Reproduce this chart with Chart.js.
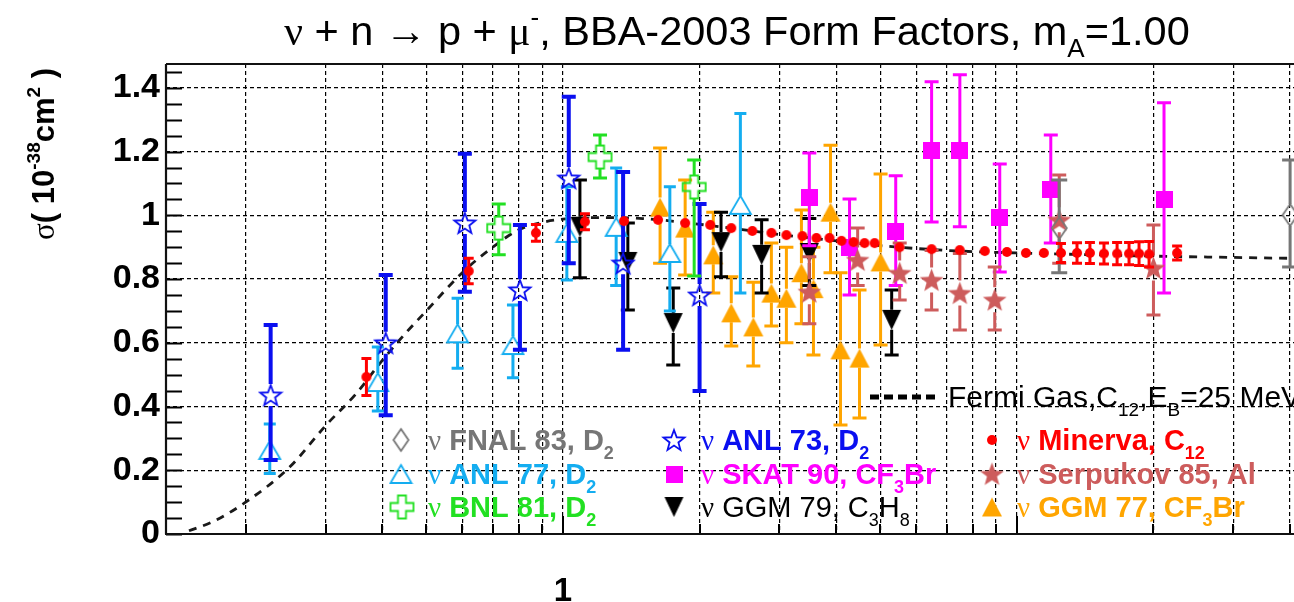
<!DOCTYPE html>
<html>
<head>
<meta charset="utf-8">
<title>nu n -> p mu cross section</title>
<script src="https://cdn.jsdelivr.net/npm/chart.js@4/dist/chart.umd.min.js"></script>
<style>
  html, body { margin: 0; padding: 0; background: #fff; }
  #wrap { width: 1294px; height: 602px; }
</style>
</head>
<body>
<div id="wrap"><canvas id="xsChart" width="1294" height="602"></canvas></div>
<script>
// neutrino energy (GeV), cross section (1e-38 cm^2) and error band per experiment
const anl73E  = [0.227, 0.407, 0.608, 0.804, 1.03, 1.357, 2.0];
const anl73Xs = [0.436, 0.600, 0.976, 0.766, 1.117, 0.850, 0.750];
const anl73Hi = [0.656, 0.813, 1.193, 0.970, 1.372, 1.136, 1.036];
const anl73Lo = [0.232, 0.373, 0.760, 0.578, 0.850, 0.578, 0.449];

const anl77E  = [0.226, 0.391, 0.586, 0.776, 1.02, 1.31, 1.72, 2.46];
const anl77Xs = [0.264, 0.477, 0.630, 0.593, 0.945, 0.964, 0.882, 1.033];
const anl77Hi = [0.345, 0.587, 0.740, 0.719, 1.090, 1.149, 1.090, 1.320];
const anl77Lo = [0.190, 0.386, 0.520, 0.490, 0.797, 0.780, 0.700, 0.756];

const bnl81E  = [0.722, 1.207, 1.946];
const bnl81Xs = [0.960, 1.183, 1.089];
const bnl81Hi = [1.036, 1.252, 1.174];
const bnl81Lo = [0.876, 1.117, 0.810];

const fnal83E  = [12.4, 40.0];
const fnal83Xs = [0.960, 1.001];
const fnal83Hi = [1.111, 1.174];
const fnal83Lo = [0.820, 0.838];

const skat90E  = [3.49, 4.28, 5.41, 6.49, 7.49, 9.17, 11.88, 21.1];
const skat90Xs = [1.055, 0.898, 0.948, 1.202, 1.202, 0.992, 1.080, 1.051];
const skat90Hi = [1.196, 1.051, 1.124, 1.419, 1.441, 1.161, 1.252, 1.353];
const skat90Lo = [0.905, 0.750, 0.780, 0.979, 0.964, 0.822, 0.913, 0.756];

const ggm79E  = [1.09, 1.39, 1.75, 2.23, 2.74, 3.49, 5.30];
const ggm79Xs = [0.964, 0.854, 0.662, 0.916, 0.876, 0.882, 0.672];
const ggm79Hi = [1.111, 0.976, 0.772, 1.010, 0.986, 0.990, 0.766];
const ggm79Lo = [0.804, 0.703, 0.530, 0.807, 0.756, 0.780, 0.562];

const serp85E  = [3.49, 4.46, 5.52, 6.49, 7.49, 8.94, 12.4, 20.0];
const serp85Xs = [0.760, 0.860, 0.819, 0.797, 0.756, 0.735, 0.986, 0.835];
const serp85Hi = [0.870, 0.960, 0.913, 0.890, 0.880, 0.838, 1.127, 0.970];
const serp85Lo = [0.660, 0.780, 0.734, 0.703, 0.640, 0.640, 0.850, 0.687];

const ggm77E  = [1.637, 1.859, 2.144, 2.349, 2.627, 2.879, 3.107, 3.353, 3.564, 3.886, 4.088, 4.502, 5.01];
const ggm77Xs = [1.026, 0.960, 0.876, 0.694, 0.650, 0.756, 0.740, 0.820, 0.770, 1.010, 0.578, 0.552, 0.854];
const ggm77Hi = [1.211, 1.111, 1.010, 0.807, 0.790, 0.913, 0.900, 1.017, 0.900, 1.220, 0.820, 0.766, 1.130];
const ggm77Lo = [0.850, 0.813, 0.756, 0.590, 0.527, 0.653, 0.600, 0.660, 0.562, 0.820, 0.342, 0.364, 0.593];

const minervaE   = [0.369, 0.62, 0.872, 1.118, 1.363, 1.62, 1.859, 2.111, 2.349, 2.614, 2.879, 3.107,
                    3.37, 3.618, 3.866, 4.108, 4.367, 4.618, 4.86, 5.516, 6.49, 7.485, 8.50, 9.51,
                    10.47, 11.47, 12.51, 13.57, 14.49, 15.56, 16.63, 17.67, 18.59, 19.56, 22.55];
const minervaXs  = [0.493, 0.825, 0.945, 0.980, 0.982, 0.986, 0.976, 0.970, 0.960, 0.951, 0.945, 0.938,
                    0.935, 0.929, 0.929, 0.920, 0.916, 0.913, 0.913, 0.900, 0.894, 0.891, 0.888, 0.885,
                    0.882, 0.882, 0.882, 0.882, 0.882, 0.880, 0.880, 0.880, 0.880, 0.878, 0.882];
const minervaErr = [0.058, 0.040, 0.026, 0.025, 0.010, 0.010, 0.010, 0.010, 0.010, 0.010, 0.010, 0.010,
                    0.010, 0.010, 0.010, 0.010, 0.010, 0.010, 0.010, 0.010, 0.010, 0.010, 0.010, 0.010,
                    0.010, 0.010, 0.030, 0.032, 0.033, 0.033, 0.035, 0.035, 0.037, 0.040, 0.022];

// Fermi gas prediction, C12, Eb = 25 MeV
const fermiE  = [0.15, 0.17, 0.2, 0.25, 0.3, 0.35, 0.4, 0.45, 0.5, 0.6, 0.7, 0.8, 0.9, 1.0, 1.2,
                 1.5, 2, 3, 4, 5, 7, 10, 15, 20, 30, 40.8];
const fermiXs = [0.010, 0.040, 0.100, 0.210, 0.340, 0.440, 0.545, 0.630, 0.700, 0.820, 0.900, 0.955,
                 0.978, 0.988, 0.993, 0.990, 0.972, 0.940, 0.920, 0.905, 0.890, 0.882, 0.876, 0.872,
                 0.868, 0.865];

// axis ticks
const xGridTicks = [0.2, 0.3, 0.4, 0.5, 0.6, 0.7, 0.8, 0.9, 1, 2, 3, 4, 5, 6, 7, 8, 9, 10, 20, 30, 40];
const xLabelTicks = [1];
const yMajorTicks = [0, 0.2, 0.4, 0.6, 0.8, 1.0, 1.2, 1.4];
const yMinorStep = 0.05;

const SANS = '"Liberation Sans", Arial, Helvetica, sans-serif';
const SERIF = '"Liberation Serif", "DejaVu Serif", serif';

const COL = {
  fnal: '#767676', anl77: '#14adf0', bnl: '#22e022', anl73: '#0a0ff0',
  skat: '#ff00ff', ggm79: '#000000', minerva: '#ff0000', serp: '#cd5c5c', ggm77: '#ffa500'
};

// ---- ROOT-like marker bitmaps --------------------------------------------
function canvasOf(w, h) {
  const c = document.createElement('canvas');
  c.width = w; c.height = h;
  return c;
}
function starMarker(size, fill, stroke, lw) {
  const c = canvasOf(size + 4, size + 4), g = c.getContext('2d');
  const cx = c.width / 2, cy = c.height / 2 + 1, R = size / 2, r = R * 0.42;
  g.beginPath();
  for (let i = 0; i < 10; i++) {
    const a = -Math.PI / 2 + i * Math.PI / 5, rr = i % 2 ? r : R;
    g.lineTo(cx + rr * Math.cos(a), cy + rr * Math.sin(a));
  }
  g.closePath();
  if (fill) { g.fillStyle = fill; g.fill(); }
  if (stroke) { g.lineWidth = lw; g.strokeStyle = stroke; g.lineJoin = 'miter'; g.stroke(); }
  return c;
}
function triMarker(w, h, color, open, down) {
  const c = canvasOf(w + 4, h + 4), g = c.getContext('2d');
  const l = 2, r = w + 2, t = 2, b = h + 2;
  g.beginPath();
  if (down) { g.moveTo(l, t); g.lineTo(r, t); g.lineTo(c.width / 2, b); }
  else { g.moveTo(c.width / 2, t); g.lineTo(r, b); g.lineTo(l, b); }
  g.closePath();
  if (open) { g.lineWidth = 1.8; g.strokeStyle = color; g.stroke(); }
  else { g.fillStyle = color; g.fill(); }
  return c;
}
function squareMarker(s, color) {
  const c = canvasOf(s, s), g = c.getContext('2d');
  g.fillStyle = color; g.fillRect(0, 0, s, s);
  return c;
}
function dotMarker(d, color) {
  const c = canvasOf(d + 2, d + 2), g = c.getContext('2d');
  g.fillStyle = color; g.beginPath();
  g.arc(c.width / 2, c.height / 2, d / 2, 0, Math.PI * 2); g.fill();
  return c;
}
function crossMarker(s, arm, color) {
  const c = canvasOf(s + 4, s + 4), g = c.getContext('2d');
  const o = 2, a = (s - arm) / 2;
  g.beginPath();
  g.moveTo(o + a, o); g.lineTo(o + a + arm, o); g.lineTo(o + a + arm, o + a);
  g.lineTo(o + s, o + a); g.lineTo(o + s, o + a + arm); g.lineTo(o + a + arm, o + a + arm);
  g.lineTo(o + a + arm, o + s); g.lineTo(o + a, o + s); g.lineTo(o + a, o + a + arm);
  g.lineTo(o, o + a + arm); g.lineTo(o, o + a); g.lineTo(o + a, o + a);
  g.closePath();
  g.lineWidth = 1.8; g.strokeStyle = color; g.stroke();
  return c;
}
function diamondMarker(w, h, color) {
  const c = canvasOf(w + 4, h + 4), g = c.getContext('2d');
  const cx = c.width / 2, cy = c.height / 2;
  g.beginPath();
  g.moveTo(cx, 2); g.lineTo(cx + w / 2, cy); g.lineTo(cx, h + 2); g.lineTo(cx - w / 2, cy);
  g.closePath();
  g.lineWidth = 1.8; g.strokeStyle = color; g.stroke();
  return c;
}

const MK = {
  fnal: diamondMarker(15, 22, COL.fnal),
  anl77: triMarker(21, 18, COL.anl77, true, false),
  bnl: crossMarker(23, 8, COL.bnl),
  anl73: starMarker(22, null, COL.anl73, 1.8),
  skat: squareMarker(17, COL.skat),
  ggm79: triMarker(19, 20, COL.ggm79, false, true),
  minerva: dotMarker(10, COL.minerva),
  serp: starMarker(25, COL.serp, null, 0),
  ggm77: triMarker(20, 19, COL.ggm77, false, false)
};

function series(label, E, xs, lo, hi, key, order, barW, capHalf) {
  const mk = MK[key];
  return {
    label, order,
    data: E.map((e, i) => ({ x: e, y: xs[i] })),
    errLo: lo, errHi: hi,
    pointStyle: mk, pointRadius: 10, pointHoverRadius: 10, pointBorderWidth: 0,
    borderColor: COL[key], backgroundColor: COL[key], showLine: false,
    barColor: COL[key], barWidth: barW, capHalf: capHalf, gap: (mk.height - 4) / 2
  };
}

const datasets = [
  {
    type: 'line', label: 'Fermi Gas', order: 20,
    data: fermiE.map((e, i) => ({ x: e, y: fermiXs[i] })),
    borderColor: '#1a1a1a', borderWidth: 2.8, borderDash: [8, 7],
    pointRadius: 0, cubicInterpolationMode: 'monotone', fill: false
  },
  series('GGM 77', ggm77E, ggm77Xs, ggm77Lo, ggm77Hi, 'ggm77', 9, 3, 7),
  series('GGM 79', ggm79E, ggm79Xs, ggm79Lo, ggm79Hi, 'ggm79', 8, 3, 7),
  series('SKAT 90', skat90E, skat90Xs, skat90Lo, skat90Hi, 'skat', 7, 3, 7),
  series('Serpukov 85', serp85E, serp85Xs, serp85Lo, serp85Hi, 'serp', 6, 3, 7),
  series('ANL 77', anl77E, anl77Xs, anl77Lo, anl77Hi, 'anl77', 5, 3, 6),
  series('ANL 73', anl73E, anl73Xs, anl73Lo, anl73Hi, 'anl73', 4, 4, 7),
  series('BNL 81', bnl81E, bnl81Xs, bnl81Lo, bnl81Hi, 'bnl', 3, 3, 7),
  series('FNAL 83', fnal83E, fnal83Xs, fnal83Lo, fnal83Hi, 'fnal', 2, 3, 8),
  series('Minerva', minervaE, minervaXs,
         minervaXs.map((v, i) => v - minervaErr[i]), minervaXs.map((v, i) => v + minervaErr[i]),
         'minerva', 1, 3, 5)
];

// ---- text with sub/superscripts ------------------------------------------
function fontFor(kind, size, weight) {
  if (kind === 'g') return `${size}px ${SERIF}`;
  if (kind === 'sub' || kind === 'sup') return `${weight} ${Math.round(size * 0.62)}px ${SANS}`;
  return `${weight} ${size}px ${SANS}`;
}
function richWidth(ctx, parts, size, weight) {
  let w = 0;
  parts.forEach(([t, k]) => { ctx.font = fontFor(k, size, weight); w += ctx.measureText(t).width; });
  return w;
}
function drawRich(ctx, parts, x, y, size, weight, color) {
  ctx.fillStyle = color;
  ctx.textAlign = 'left';
  ctx.textBaseline = 'alphabetic';
  parts.forEach(([t, k]) => {
    ctx.font = fontFor(k, size, weight);
    let dy = 0;
    if (k === 'sub') dy = size * 0.3;
    if (k === 'sup') dy = -size * 0.45;
    ctx.fillText(t, x, y + dy);
    x += ctx.measureText(t).width;
  });
}

const titleParts = [['ν', 'g'], [' + n '], ['→', 'g'], [' p + '], ['μ', 'g'], ['-', 'sup'],
                    [', BBA-2003 Form Factors, m'], ['A', 'sub'], ['=1.00']];
const yTitleParts = [['σ', 'g'], ['( 10'], ['-38', 'sup'], ['cm'], ['2', 'sup'], [' )']];

const legendRows = [
  { mk: 'fnal', x: 401, tx: 428, y: 440, parts: [['ν', 'g'], [' FNAL 83, D'], ['2', 'sub']] },
  { mk: 'anl77', x: 401, tx: 428, y: 474, parts: [['ν', 'g'], [' ANL 77, D'], ['2', 'sub']] },
  { mk: 'bnl', x: 402, tx: 428, y: 507, parts: [['ν', 'g'], [' BNL 81, D'], ['2', 'sub']] },
  { mk: 'anl73', x: 674, tx: 701, y: 440, parts: [['ν', 'g'], [' ANL 73, D'], ['2', 'sub']] },
  { mk: 'skat', x: 674, tx: 701, y: 474, parts: [['ν', 'g'], [' SKAT 90, CF'], ['3', 'sub'], ['Br']] },
  { mk: 'ggm79', x: 674, tx: 701, y: 507, w: 'normal', parts: [['ν', 'g'], [' GGM 79, C'], ['3', 'sub'], ['H'], ['8', 'sub']] },
  { mk: 'minerva', x: 992, tx: 1017, y: 440, parts: [['ν', 'g'], [' Minerva, C'], ['12', 'sub']] },
  { mk: 'serp', x: 992, tx: 1017, y: 474, parts: [['ν', 'g'], [' Serpukov 85, Al']] },
  { mk: 'ggm77', x: 992, tx: 1017, y: 507, parts: [['ν', 'g'], [' GGM 77, CF'], ['3', 'sub'], ['Br']] }
];

// ---- plugins ---------------------------------------------------------------
const errorBars = {
  id: 'errorBars',
  beforeDatasetDraw(chart, args) {
    const ds = chart.data.datasets[args.index];
    if (!ds.errHi) return;
    const { ctx, chartArea: a, scales: { y } } = chart;
    ctx.save();
    ctx.beginPath();
    ctx.rect(a.left, a.top, a.right - a.left, a.bottom - a.top);
    ctx.clip();
    ctx.strokeStyle = ds.barColor;
    ctx.lineWidth = ds.barWidth;
    args.meta.data.forEach((pt, i) => {
      const top = y.getPixelForValue(ds.errHi[i]);
      const bot = y.getPixelForValue(ds.errLo[i]);
      const g = ds.gap, c = ds.capHalf;
      ctx.beginPath();
      if (top < pt.y - g) {
        ctx.moveTo(pt.x, top); ctx.lineTo(pt.x, pt.y - g);
        ctx.moveTo(pt.x - c, top); ctx.lineTo(pt.x + c, top);
      }
      if (bot > pt.y + g) {
        ctx.moveTo(pt.x, pt.y + g); ctx.lineTo(pt.x, bot);
        ctx.moveTo(pt.x - c, bot); ctx.lineTo(pt.x + c, bot);
      }
      ctx.stroke();
    });
    ctx.restore();
  }
};

const frameAndText = {
  id: 'frameAndText',
  afterDraw(chart) {
    const { ctx, chartArea: a, scales: { x, y } } = chart;
    ctx.save();

    // inner tick marks
    ctx.strokeStyle = '#000';
    ctx.lineWidth = 2;
    ctx.beginPath();
    for (let v = 0; v <= 1.4751; v += yMinorStep) {
      const py = Math.round(y.getPixelForValue(v)) + 0.5;
      ctx.moveTo(a.left, py); ctx.lineTo(a.left + 16, py);
    }
    xGridTicks.forEach(v => {
      const px = Math.round(x.getPixelForValue(v));
      const len = (v === 1 || v === 10) ? 18 : 10;
      ctx.moveTo(px, a.bottom); ctx.lineTo(px, a.bottom - len);
    });
    ctx.stroke();

    // frame
    ctx.lineWidth = 2.2;
    ctx.strokeStyle = '#111';
    ctx.beginPath();
    ctx.moveTo(a.left, a.top); ctx.lineTo(a.right, a.top);
    ctx.moveTo(a.left, a.top); ctx.lineTo(a.left, a.bottom);
    ctx.moveTo(a.left - 1, a.bottom); ctx.lineTo(a.right, a.bottom);
    ctx.stroke();

    // title
    const tw = richWidth(ctx, titleParts, 41.5, 'normal');
    drawRich(ctx, titleParts, 737 - tw / 2, 45, 41.5, 'normal', '#000');

    // y axis title, right-aligned to the top of the axis
    const yw = richWidth(ctx, yTitleParts, 31, 'bold');
    ctx.save();
    ctx.translate(54, 68);
    ctx.rotate(-Math.PI / 2);
    drawRich(ctx, yTitleParts, -yw, 0, 31, 'bold', '#000');
    ctx.restore();

    // legend
    legendRows.forEach(r => {
      const m = MK[r.mk];
      ctx.drawImage(m, r.x - m.width / 2, r.y - m.height / 2);
      drawRich(ctx, r.parts, r.tx, r.y + 10, 29, r.w || 'bold', COL[r.mk]);
    });

    // Fermi gas key
    ctx.strokeStyle = '#000';
    ctx.lineWidth = 5;
    ctx.setLineDash([9, 5]);
    ctx.beginPath(); ctx.moveTo(870, 397); ctx.lineTo(937, 397); ctx.stroke();
    ctx.setLineDash([]);
    drawRich(ctx, [['Fermi Gas,C'], ['12', 'sub'], [',E'], ['B', 'sub'], ['=25 MeV']], 948, 407, 30, 'normal', '#000');

    ctx.restore();
  }
};

// ---- chart -------------------------------------------------------------------
const ctx = document.getElementById('xsChart').getContext('2d');
new Chart(ctx, {
  type: 'scatter',
  data: { datasets: datasets },
  options: {
    responsive: false,
    animation: false,
    devicePixelRatio: 1,
    layout: { padding: { top: 64, right: 0, bottom: 0, left: 0 }, autoPadding: false },
    plugins: {
      legend: { display: false },
      title: { display: false },
      tooltip: { enabled: false }
    },
    scales: {
      x: {
        type: 'logarithmic',
        min: 0.1335,
        max: 40.8,
        afterBuildTicks: s => { s.ticks = xGridTicks.map(v => ({ value: v })); },
        afterFit: s => { s.height = 68; },
        ticks: {
          autoSkip: false, maxRotation: 0, padding: 0, color: '#000',
          font: { family: SANS, size: 33, weight: 'bold' },
          callback: v => xLabelTicks.includes(v) ? String(v) : ''
        },
        // the invisible outer tick length pushes the label down below the frame
        grid: { color: '#000', lineWidth: 1.2, drawTicks: true, tickLength: 38, tickColor: 'rgba(0,0,0,0)' },
        border: { display: false, dash: [4, 3] }
      },
      y: {
        min: 0,
        max: 1.475,
        afterBuildTicks: s => { s.ticks = yMajorTicks.map(v => ({ value: v })); },
        afterFit: s => { s.width = 166; },
        ticks: {
          padding: 6, color: '#000',
          font: { family: SANS, size: 34, weight: 'bold' },
          callback: v => String(+v.toFixed(1))
        },
        grid: { color: '#000', lineWidth: 1.2, drawTicks: false },
        border: { display: false, dash: [4, 3] }
      }
    }
  },
  plugins: [errorBars, frameAndText]
});
</script>
</body>
</html>
